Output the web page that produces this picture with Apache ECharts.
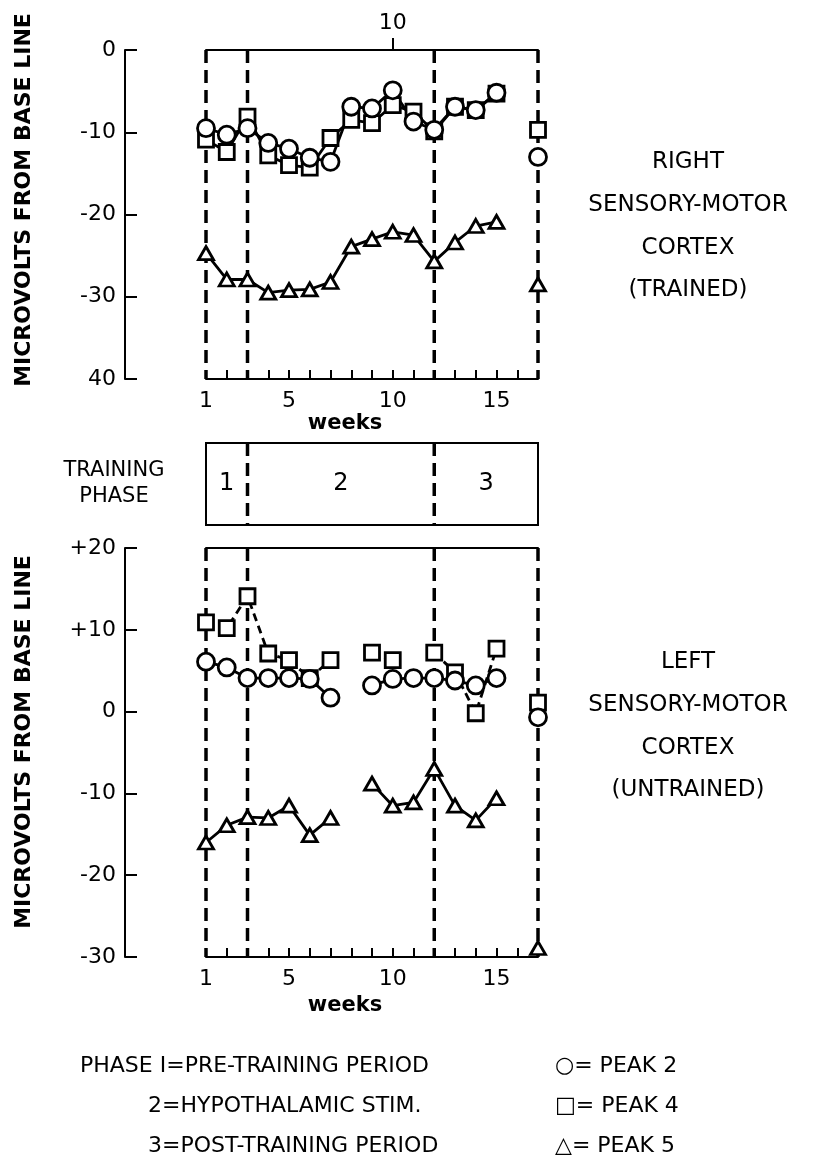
<!DOCTYPE html>
<html>
<head>
<meta charset="utf-8">
<style>
  html, body { margin: 0; padding: 0; background: #fff; }
  #chart { width: 835px; height: 1165px; }
</style>
<script src="https://cdn.jsdelivr.net/npm/echarts@6/dist/echarts.min.js"></script>
</head>
<body>
<div id="chart"></div>
<script>
// weeks 1..17 (no recording in week 16, and week 8 missing for the left cortex)
const weeks = [1, 2, 3, 4, 5, 6, 7, 8, 9, 10, 11, 12, 13, 14, 15, 16, 17]
const weekLabels = [1, 5, 10, 15]
const topAxisLabels = [10]

// right sensory-motor cortex (trained)
const rightPeak2 = [-9.5, -10.3, -9.5, -11.3, -12.0, -13.1, -13.6, -6.9, -7.1, -4.9, -8.7, -9.7, -6.9, -7.3, -5.2, null, -13.0]
const rightPeak4 = [-10.9, -12.4, -8.1, -12.8, -14.0, -14.3, -10.7, -8.5, -8.9, -6.7, -7.5, -9.9, -6.9, -7.3, -5.3, null, -9.7]
const rightPeak5 = [-24.7, -27.9, -27.9, -29.5, -29.2, -29.1, -28.2, -23.9, -23.0, -22.1, -22.5, -25.7, -23.4, -21.4, -20.9, null, -28.5]

// left sensory-motor cortex (untrained)
const leftPeak2 = [6.1, 5.4, 4.1, 4.1, 4.1, 4.0, 1.7, null, 3.2, 4.0, 4.1, 4.1, 3.8, 3.2, 4.1, null, -0.7]
const leftPeak4 = [10.9, 10.2, 14.1, 7.1, 6.3, 4.1, 6.3, null, 7.2, 6.3, null, 7.2, 4.8, -0.2, 7.7, null, 1.1]
const leftPeak5 = [-16.0, -13.9, -12.9, -13.0, -11.5, -15.1, -13.0, null, -8.8, -11.5, -11.1, -7.0, -11.5, -13.3, -10.6, null, -28.9]

// training phases: boundaries in weeks, labels and their centres
const phaseBounds = [1, 3, 12, 17]
const phaseNames = ['1', '2', '3']
const phaseMids = [2, 7.5, 14.5]

const FONT = 'DejaVu Sans'
const INK = '#000'

const chart = echarts.init(document.getElementById('chart'), null, { renderer: 'canvas' })

function pairs (vals) {
  return vals.map((v, i) => [weeks[i], v == null ? '-' : v])
}

// dashed phase boundaries across a whole panel
function dashLines (xi, yi, top, bottom) {
  return phaseBounds.map(b => ({
    type: 'line',
    xAxisIndex: xi,
    yAxisIndex: yi,
    data: [[b, top], [b, bottom]],
    symbol: 'none',
    silent: true,
    z: 1,
    lineStyle: { color: INK, width: 3.5, type: [13, 7] }
  }))
}

function peakSeries (vals, xi, yi, symbol, size, dashed) {
  return {
    type: 'line',
    xAxisIndex: xi,
    yAxisIndex: yi,
    data: pairs(vals),
    symbol,
    symbolSize: size,
    showAllSymbol: true,
    connectNulls: false,
    z: 3,
    itemStyle: { color: '#fff', borderColor: INK, borderWidth: 2.8 },
    lineStyle: { color: INK, width: 2.8, type: dashed ? [8, 5] : 'solid' },
    emphasis: { disabled: true }
  }
}

const weekAxis = (gi, gap) => ({
  type: 'value',
  gridIndex: gi,
  position: 'bottom',
  min: 1,
  max: 17,
  interval: 1,
  axisLine: { show: true, onZero: false, lineStyle: { color: INK, width: 2 } },
  axisTick: { show: true, inside: true, length: 9, lineStyle: { color: INK, width: 2 } },
  axisLabel: {
    color: INK, fontFamily: FONT, fontSize: 22, margin: 11,
    formatter: v => weekLabels.includes(v) ? String(v) : ''
  },
  splitLine: { show: false },
  name: 'weeks',
  nameLocation: 'middle',
  nameGap: gap,
  nameTextStyle: { color: INK, fontFamily: FONT, fontSize: 21, fontWeight: 'bold', padding: [0, 54, 0, 0] }
})

const topLine = (gi, labels) => ({
  type: 'value',
  gridIndex: gi,
  position: 'top',
  min: 1,
  max: 17,
  axisLine: { show: true, onZero: false, lineStyle: { color: INK, width: 2 } },
  axisTick: { show: labels.length > 0, customValues: labels, length: 12, lineStyle: { color: INK, width: 2 } },
  axisLabel: { show: labels.length > 0, customValues: labels, color: INK, fontFamily: FONT, fontSize: 22, margin: 16 },
  splitLine: { show: false }
})

const uvAxis = (gi, min, max, fmt) => ({
  type: 'value',
  gridIndex: gi,
  position: 'left',
  offset: 81,
  min,
  max,
  interval: 10,
  axisLine: { show: true, onZero: false, lineStyle: { color: INK, width: 2 } },
  axisTick: { show: true, inside: true, length: 12, lineStyle: { color: INK, width: 2 } },
  axisLabel: { color: INK, fontFamily: FONT, fontSize: 22, margin: 9, formatter: fmt },
  splitLine: { show: false }
})

const txt = (x, y, text, size, align, bold) => ({
  type: 'text',
  x,
  y,
  style: {
    text,
    fill: INK,
    font: `${bold ? 'bold ' : ''}${size}px "${FONT}"`,
    textAlign: align || 'center',
    textVerticalAlign: 'middle'
  }
})

const vtxt = (x, y, text) => ({
  type: 'text',
  x,
  y,
  rotation: Math.PI / 2,
  style: {
    text,
    fill: INK,
    font: `bold 22px "${FONT}"`,
    textAlign: 'center',
    textVerticalAlign: 'middle'
  }
})

const option = {
  animation: false,
  backgroundColor: '#fff',
  grid: [
    { left: 206, width: 332, top: 50, height: 329, outerBoundsMode: 'none' },
    { left: 206, width: 332, top: 443, height: 82, show: true, borderColor: INK, borderWidth: 2, outerBoundsMode: 'none' },
    { left: 206, width: 332, top: 548, height: 409, outerBoundsMode: 'none' }
  ],
  xAxis: [
    weekAxis(0, 34),
    topLine(0, topAxisLabels),
    { type: 'value', gridIndex: 1, min: 1, max: 17, show: false },
    weekAxis(2, 38),
    topLine(2, [])
  ],
  yAxis: [
    uvAxis(0, -40, 0, v => v === -40 ? '40' : String(v)),
    { type: 'value', gridIndex: 1, min: 0, max: 1, show: false },
    uvAxis(2, -30, 20, v => v > 0 ? '+' + v : String(v))
  ],
  series: [
    ...dashLines(0, 0, 0, -40),
    ...dashLines(3, 2, 20, -30),
    ...phaseBounds.slice(1, 3).map(b => ({
      type: 'line',
      xAxisIndex: 2,
      yAxisIndex: 1,
      data: [[b, 1], [b, 0]],
      symbol: 'none',
      silent: true,
      lineStyle: { color: INK, width: 3.5, type: [13, 7] }
    })),
    {
      type: 'scatter',
      xAxisIndex: 2,
      yAxisIndex: 1,
      symbolSize: 0,
      silent: true,
      itemStyle: { opacity: 1 },
      data: phaseMids.map(m => [m, 0.5]),
      label: {
        show: true,
        position: 'inside',
        color: INK,
        opacity: 1,
        fontFamily: FONT,
        fontSize: 24,
        formatter: p => phaseNames[p.dataIndex]
      }
    },
    peakSeries(rightPeak5, 0, 0, 'triangle', [15, 13]),
    peakSeries(rightPeak4, 0, 0, 'rect', 15),
    peakSeries(rightPeak2, 0, 0, 'circle', 17),
    peakSeries(leftPeak5, 3, 2, 'triangle', [15, 13]),
    peakSeries(leftPeak4, 3, 2, 'rect', 15, true),
    peakSeries(leftPeak2, 3, 2, 'circle', 17)
  ],
  graphic: [
    vtxt(24, 200, 'MICROVOLTS FROM BASE LINE'),
    vtxt(24, 742, 'MICROVOLTS FROM BASE LINE'),
    txt(114, 471, 'TRAINING', 21),
    txt(114, 497, 'PHASE', 21),
    txt(688, 162, 'RIGHT', 23),
    txt(688, 205, 'SENSORY-MOTOR', 23),
    txt(688, 248, 'CORTEX', 23),
    txt(688, 290, '(TRAINED)', 23),
    txt(688, 662, 'LEFT', 23),
    txt(688, 705, 'SENSORY-MOTOR', 23),
    txt(688, 748, 'CORTEX', 23),
    txt(688, 790, '(UNTRAINED)', 23),
    txt(80, 1066, 'PHASE I=PRE-TRAINING PERIOD', 22, 'left'),
    txt(148, 1106, '2=HYPOTHALAMIC STIM.', 22, 'left'),
    txt(148, 1146, '3=POST-TRAINING PERIOD', 22, 'left'),
    txt(555, 1066, '\u25CB= PEAK 2', 22, 'left'),
    txt(555, 1106, '\u25A1= PEAK 4', 22, 'left'),
    txt(555, 1146, '\u25B3= PEAK 5', 22, 'left')
  ]
}

chart.setOption(option)
</script>
</body>
</html>
